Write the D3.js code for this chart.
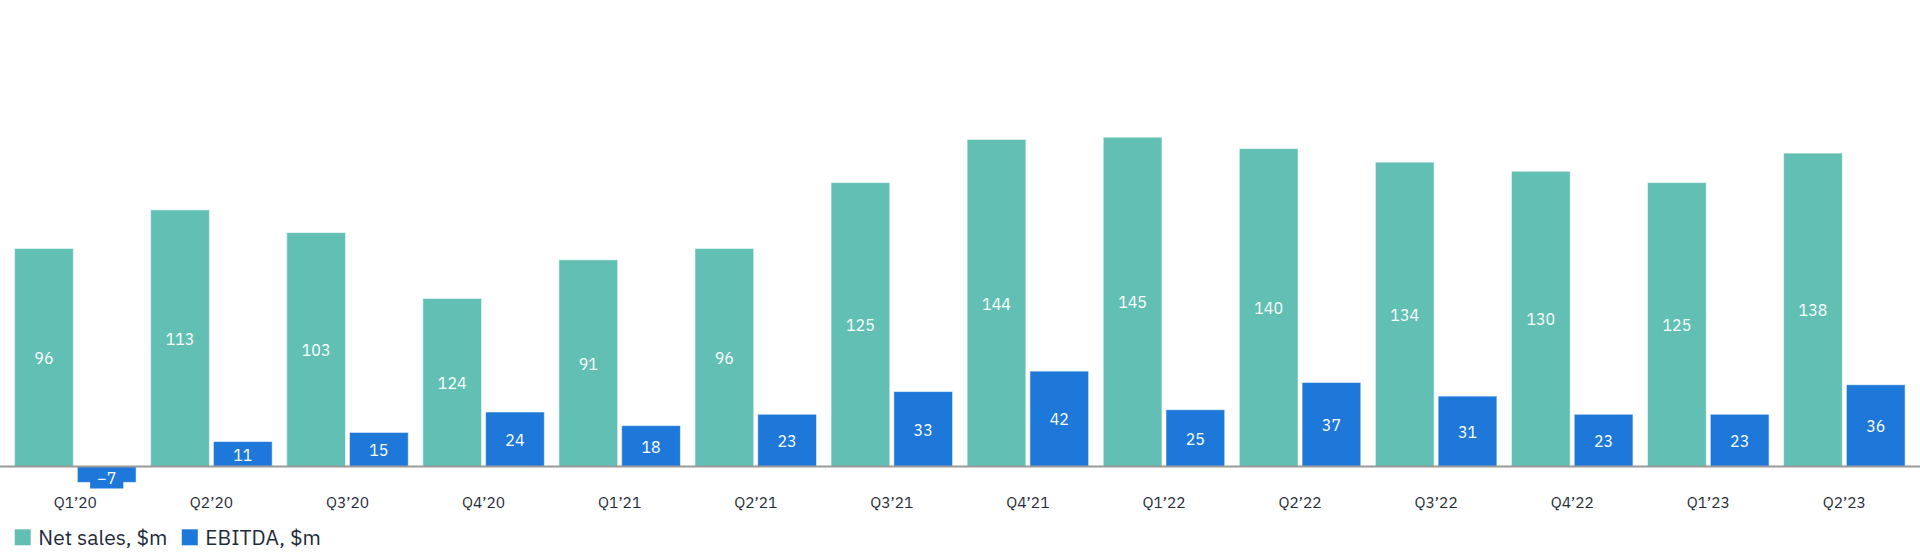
<!DOCTYPE html>
<html>
<head>
<meta charset="utf-8">
<script src="https://cdn.jsdelivr.net/npm/d3@7/dist/d3.min.js"></script>
<style>
  html, body { margin: 0; padding: 0; background: #ffffff; }
  svg { display: block; }
</style>
</head>
<body>
<svg id="chart" width="1920" height="557"></svg>
<script>
const categories = ["Q1’20","Q2’20","Q3’20","Q4’20","Q1’21","Q2’21","Q3’21","Q4’21","Q1’22","Q2’22","Q3’22","Q4’22","Q1’23","Q2’23"];
// Bar heights as drawn in the reference
const netSales = [96,113,103,74,91,96,125,144,145,140,134,130,125,138];
// Labels as printed in the reference (Q4’20 label differs from its bar)
const netSalesLabels = ["96","113","103","124","91","96","125","144","145","140","134","130","125","138"];
const ebitda = [-7,11,15,24,18,23,33,42,25,37,31,23,23,36];
const seriesNames = ["Net sales, $m","EBITDA, $m"];
const seriesColors = ["#62bfb4","#1e78da"];

const svg = d3.select("#chart");
const font = "'IBM Plex Sans', 'Noto Sans', 'Open Sans', sans-serif";

const x0 = d3.scaleBand().domain(categories).range([7.3, 1912.4]).paddingInner(0.107).paddingOuter(0.0535);
const x1 = d3.scaleBand().domain(["net","ebitda"]).range([0, x0.bandwidth()]).paddingInner(0.064);
const y = d3.scaleLinear().domain([-10, 200]).range([489.2, 12.3]);

const data = categories.map((c, i) => ({cat: c, net: netSales[i], netLabel: netSalesLabels[i], ebitda: ebitda[i]}));

const g = svg.append("g");

// Net sales bars
g.selectAll("rect.net").data(data).join("rect")
  .attr("class","net")
  .attr("x", d => x0(d.cat) + x1("net"))
  .attr("width", x1.bandwidth())
  .attr("y", d => y(Math.max(0, d.net)))
  .attr("height", d => Math.abs(y(d.net) - y(0)))
  .attr("fill", seriesColors[0])
  .attr("stroke", "rgba(255,255,255,0.55)")
  .attr("stroke-width", 1);

// EBITDA bars
g.selectAll("rect.eb").data(data).join("rect")
  .attr("class","eb")
  .attr("x", d => x0(d.cat) + x1("ebitda"))
  .attr("width", x1.bandwidth())
  .attr("y", d => y(Math.max(0, d.ebitda)))
  .attr("height", d => Math.abs(y(d.ebitda) - y(0)))
  .attr("fill", seriesColors[1])
  .attr("stroke", "rgba(255,255,255,0.55)")
  .attr("stroke-width", 1);

// Baseline
svg.append("line")
  .attr("x1", 0).attr("x2", 1920)
  .attr("y1", y(0)).attr("y2", y(0))
  .attr("stroke", "#9a9a9a").attr("stroke-width", 2);

// Net sales labels
g.selectAll("text.netl").data(data).join("text")
  .attr("class","netl")
  .attr("x", d => x0(d.cat) + x1("net") + x1.bandwidth()/2)
  .attr("y", d => (y(d.net) + y(0))/2 + 1)
  .attr("dy", "0.35em")
  .attr("text-anchor","middle")
  .attr("fill","#ffffff")
  .style("font-family", font).style("font-size","16px")
  .text(d => d.netLabel);

// EBITDA labels with background box
const fmt = v => v < 0 ? "−" + Math.abs(v) : String(v);
const ebG = g.selectAll("g.ebl").data(data).join("g").attr("class","ebl");
ebG.each(function(d) {
  const cx = x0(d.cat) + x1("ebitda") + x1.bandwidth()/2;
  const mid = (y(d.ebitda) + y(0))/2;
  const boxH = 22;
  let cy = mid;
  if (d.ebitda < 0) cy = Math.max(mid, y(0) + boxH/2);
  const sel = d3.select(this);
  const rect = sel.append("rect").attr("fill", seriesColors[1]);
  const t = sel.append("text")
    .attr("x", cx).attr("y", cy + 1).attr("dy","0.35em")
    .attr("text-anchor","middle").attr("fill","#ffffff")
    .style("font-family", font).style("font-size","16px")
    .text(fmt(d.ebitda));
  const w = t.node().getComputedTextLength() + 14;
  rect.attr("x", cx - w/2).attr("y", cy - boxH/2).attr("width", w).attr("height", boxH);
});

// X axis
const xAxis = d3.axisBottom(x0).tickSize(0).tickPadding(31);
const ax = svg.append("g").attr("transform", `translate(0,${y(0)})`).call(xAxis);
ax.select(".domain").remove();
ax.selectAll("text")
  .style("font-family", font).style("font-size","15.5px")
  .attr("fill","#1f2b3a");

// Legend
const legend = svg.append("g").attr("transform","translate(14.7,529.3)");
let lx = 0;
seriesNames.forEach((name, i) => {
  const lg = legend.append("g").attr("transform", `translate(${lx},0)`);
  lg.append("rect").attr("width",16).attr("height",16).attr("fill", seriesColors[i]);
  const t = lg.append("text").attr("x", 23.6).attr("y", 15.7)
    .style("font-family", font).style("font-size","21px")
    .attr("fill","#1f2b3a").text(name);
  lx += 23.6 + t.node().getComputedTextLength() + 14.4;
});
</script>
</body>
</html>
